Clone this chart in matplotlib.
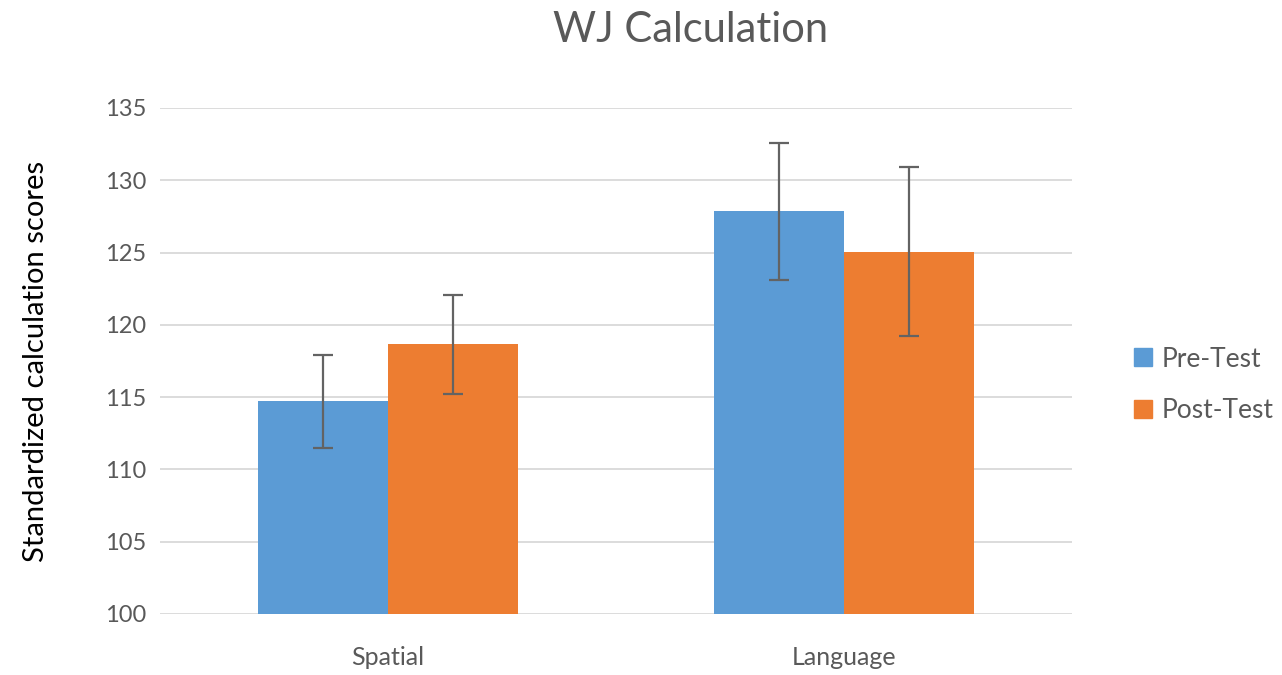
import matplotlib
matplotlib.use('Agg')
import matplotlib.pyplot as plt
from matplotlib.lines import Line2D
import numpy as np

# data
categories = ['Spatial', 'Language']
series = ['Pre-Test', 'Post-Test']
pre_vals = [114.7, 127.85]
post_vals = [118.65, 125.05]
pre_err = [3.2, 4.75]
post_err = [3.4, 5.85]
yticks = [100, 105, 110, 115, 120, 125, 130, 135]

colors = ['#5b9bd5', '#ed7d31']
grey = '#595959'
plt.rcParams['font.family'] = ['Lato', 'DejaVu Sans']

fig = plt.figure(figsize=(12.82, 6.75), dpi=100)
ax = fig.add_axes([0.1248, 0.0904, 0.7114, 0.7496])

x = np.arange(len(categories))
w = 0.285
ax.bar(x - w/2, pre_vals, w, color=colors[0], zorder=3)
ax.bar(x + w/2, post_vals, w, color=colors[1], zorder=3)
ax.errorbar(x - w/2, pre_vals, yerr=pre_err, fmt='none', ecolor='#636363',
            elinewidth=1.6, capsize=7, capthick=1.6, zorder=4)
ax.errorbar(x + w/2, post_vals, yerr=post_err, fmt='none', ecolor='#636363',
            elinewidth=1.6, capsize=7, capthick=1.6, zorder=4)

ax.set_xlim(-0.5, 1.5)
ax.set_ylim(100, 135)
ax.set_yticks(yticks)
ax.set_xticks(x)
ax.set_xticklabels(categories)
ax.grid(axis='y', color='#d9d9d9', linewidth=1.3, zorder=0)
for s in ['top', 'right', 'left', 'bottom']:
    ax.spines[s].set_visible(False)
ax.tick_params(axis='y', length=0, labelsize=17, colors=grey, pad=10)
ax.tick_params(axis='x', length=0, labelsize=18, colors=grey, pad=23)

ax.set_ylabel('Standardized calculation scores', fontsize=21, color='black', labelpad=40)
fig.text(0.539, 0.955, 'WJ Calculation', ha='center', va='center', fontsize=30, color=grey)

handles = [Line2D([], [], marker='s', linestyle='none', markersize=13,
                  markerfacecolor=c, markeredgecolor=c) for c in colors]
fig.legend(handles, series, loc='center left', bbox_to_anchor=(0.861, 0.43),
           frameon=False, fontsize=19, labelcolor=grey, handletextpad=0.1,
           labelspacing=1.0, handlelength=1.2)

fig.savefig('out.png', dpi=100)
